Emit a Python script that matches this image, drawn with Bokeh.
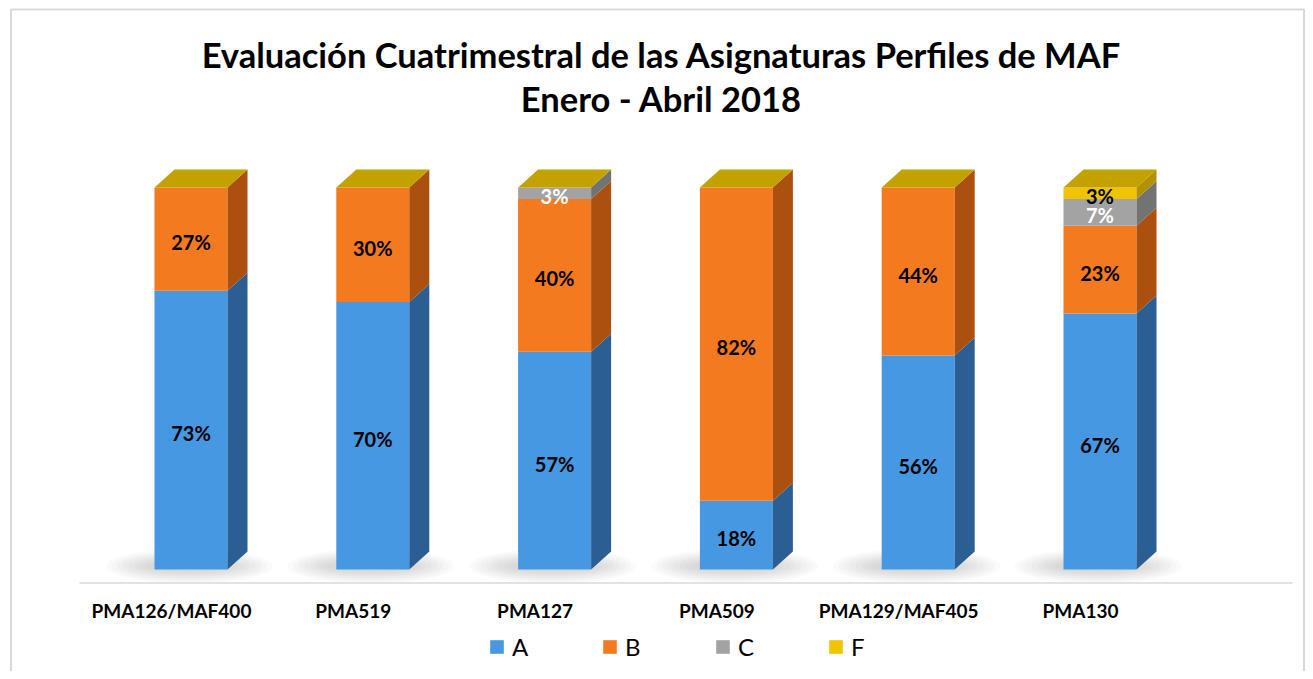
import numpy as np
from bokeh.plotting import figure
from bokeh.models import Range1d, Label, Legend, LegendItem, ColumnDataSource
from bokeh.core.properties import value
from bokeh.embed import file_html
from bokeh.resources import INLINE

# ---------------- data ----------------
categories = ["PMA126/MAF400", "PMA519", "PMA127", "PMA509", "PMA129/MAF405", "PMA130"]
series_names = ["A", "B", "C", "F"]
A = [73, 70, 57, 18, 56, 67]
B = [27, 30, 40, 82, 44, 23]
C = [0, 0, 3, 0, 0, 7]
F = [0, 0, 0, 0, 0, 3]
title_line1 = "Evaluación Cuatrimestral de las Asignaturas Perfiles de MAF"
title_line2 = "Enero - Abril 2018"

# ---------------- style ----------------
front_colors = {"A": "#4698e2", "B": "#f47a1f", "C": "#a3a3a3", "F": "#f0c400"}
side_colors = {"A": "#2b5f93", "B": "#ab500f", "C": "#737373", "F": "#b39200"}
top_color = "#c3a200"
label_colors = {"A": "black", "B": "black", "C": "white", "F": "black"}

W, H = 1305, 671
PX_CAT = 181.8           # pixels per category step
PX_PCT = 3.82            # pixels per percent
X_START = -190.5 / PX_CAT
Y_START = -(H - 569.0) / PX_PCT
HALF = 36.5 / PX_CAT     # half front width
DX = 20.0 / PX_CAT       # depth offset x
DY = 18.0 / PX_PCT       # depth offset y
LABEL_SHIFT = -19.5 / PX_CAT

p = figure(width=W, height=H, output_backend="svg", toolbar_location=None,
           x_axis_type=None, y_axis_type=None, min_border=0,
           x_range=Range1d(X_START, X_START + W / PX_CAT),
           y_range=Range1d(Y_START, Y_START + H / PX_PCT))
p.grid.visible = False
p.background_fill_color = "white"
p.border_fill_color = "white"
p.outline_line_color = None

n = len(categories)
xc = np.arange(n, dtype=float)

# chart border
p.quad(left=[X_START + 10.5 / PX_CAT], right=[X_START + 1303.5 / PX_CAT],
       top=[Y_START + (H - 9.0) / PX_PCT], bottom=[Y_START - 10.0],
       fill_color=None, line_color="#d9d9d9", line_width=2)

# soft shadows under bars
for k in range(8):
    f = 1.0 - k / 8.0
    p.ellipse(x=xc - 0.01, y=np.full(n, DY / 2 - 1.5),
              width=0.42 + 0.5 * f, height=2.0 + 7.0 * f,
              fill_color="#707070", fill_alpha=0.035, line_color=None)

# axis line
p.segment(x0=[(79 - 190.5) / PX_CAT], y0=[-13.6 / PX_PCT],
          x1=[(1292 - 190.5) / PX_CAT], y1=[-13.6 / PX_PCT],
          line_color="#d9d9d9", line_width=1.5)

values = {"A": A, "B": B, "C": C, "F": F}
bottom = np.zeros(n)
legend_items = []
for s in series_names:
    v = np.array(values[s], dtype=float)
    top = bottom + v
    src = ColumnDataSource(dict(left=xc - HALF, right=xc + HALF, bottom=bottom, top=top))
    r = p.quad(left="left", right="right", bottom="bottom", top="top", source=src,
               fill_color=front_colors[s], line_color=None)
    legend_items.append(LegendItem(label=s, renderers=[r]))
    xs, ys = [], []
    for i in range(n):
        if v[i] <= 0:
            continue
        xr = xc[i] + HALF
        xs.append([xr, xr + DX, xr + DX, xr])
        ys.append([bottom[i], bottom[i] + DY, top[i] + DY, top[i]])
    if xs:
        p.patches(xs=xs, ys=ys, fill_color=side_colors[s], line_color=None)
    # data labels
    lx, ly, lt = [], [], []
    for i in range(n):
        if v[i] > 0:
            lx.append(xc[i]); ly.append((bottom[i] + top[i]) / 2); lt.append(f"{int(v[i])}%")
    if lx:
        p.text(x=lx, y=ly, text=lt, text_align="center", text_baseline="middle",
               text_font=value("Lato"), text_font_style="bold", text_font_size="20px",
               text_color=label_colors[s], y_offset=3)
    bottom = top

# top faces (top series colour)
tx, ty = [], []
for i in range(n):
    t = bottom[i]
    tx.append([xc[i] - HALF, xc[i] - HALF + DX, xc[i] + HALF + DX, xc[i] + HALF])
    ty.append([t, t + DY, t + DY, t])
p.patches(xs=tx, ys=ty, fill_color=top_color, line_color=None)

# category labels
p.text(x=xc + LABEL_SHIFT, y=np.full(n, -41.0 / PX_PCT), text=categories,
       text_align="center", text_baseline="middle",
       text_font=value("Lato"), text_font_style="bold", text_font_size="19px",
       text_color="black")

# titles
for txt, yy in [(title_line1, H - 54), (title_line2, H - 98)]:
    p.add_layout(Label(x=661, y=yy, x_units="screen", y_units="screen", text=txt,
                       text_align="center", text_baseline="middle",
                       text_font="Lato", text_font_style="bold", text_font_size="34.5px",
                       text_color="black"))

legend = Legend(items=legend_items, location=(488, 10), orientation="horizontal",
                glyph_width=17, glyph_height=17, label_standoff=7, label_width=79,
                spacing=10, padding=0, margin=0, border_line_color=None,
                background_fill_alpha=0, label_text_font="Lato",
                label_text_font_size="24px", label_text_color="black")
p.add_layout(legend, "center")

open("out.html", "w").write(file_html(p, INLINE))
